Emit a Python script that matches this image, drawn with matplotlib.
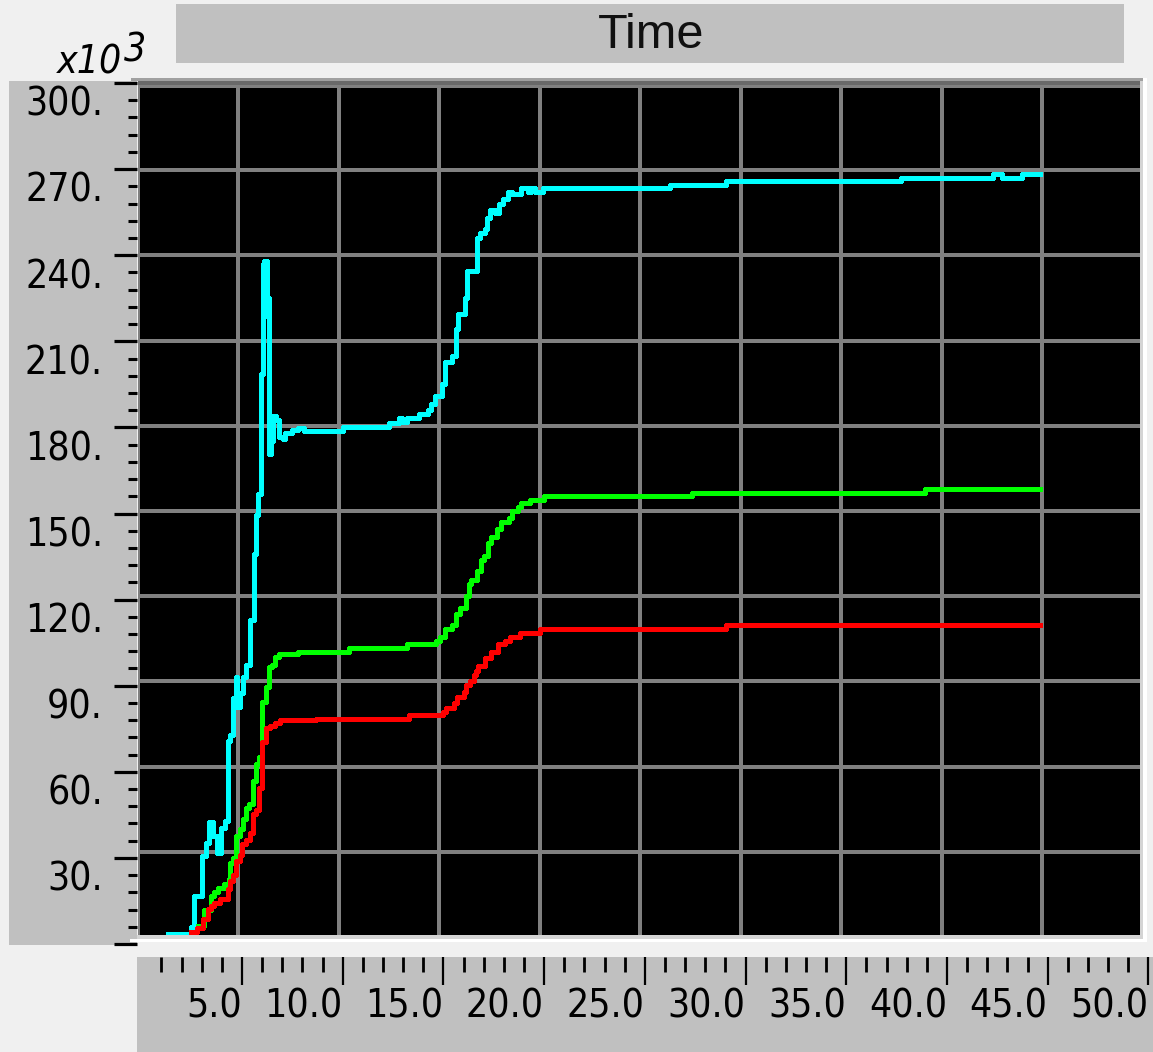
import numpy as np
import matplotlib
matplotlib.use("Agg")
import matplotlib.pyplot as plt
from matplotlib.patches import Rectangle
from matplotlib.transforms import blended_transform_factory

# step traces (x = time where each level starts, y = value in 1e3 units)
cyan_t = [1.5, 2.65, 2.8, 3.2, 3.4, 3.55, 3.75, 3.95, 4.15, 4.35, 4.5, 4.6, 4.75, 4.9,
          4.97, 5.1, 5.25, 5.4, 5.6, 5.8, 5.9, 6.0, 6.13, 6.25, 6.3, 6.42, 6.47, 6.55,
          6.65, 6.75, 6.9, 7.05, 7.25, 7.35, 7.7, 8.0, 8.3, 10.2, 12.5, 13.0, 13.15,
          13.4, 14.0, 14.45, 14.6, 14.8, 15.15, 15.3, 15.65, 15.85, 15.95, 16.3, 16.4,
          16.9, 17.05, 17.3, 17.4, 17.55, 17.8, 18.0, 18.2, 18.45, 18.65, 19.1, 19.45,
          19.6, 19.8, 20.15, 26.5, 29.3, 38.0, 42.55, 43.0, 44.0, 44.9]
cyan_v = [1, 3.5, 14.5, 28.5, 33, 40.5, 35.5, 29.5, 38.5, 41, 69, 71, 84, 91.5,
          81, 86, 91.5, 95.7, 111.5, 135, 148.5, 156, 198.4, 236.8, 238, 218.6, 225, 170,
          174.5, 183.4, 182.2, 176, 175.3, 177.3, 178.6, 179.4, 178.3, 179.5, 181, 182.8, 181.5,
          182.8, 184, 185.5, 187.8, 190.5, 194.8, 202.4, 204.5, 214, 219.4, 225, 234.6,
          246, 247.8, 249.2, 253.3, 255.9, 255, 258, 259.7, 262.3, 261.5, 263.6, 262.3,
          263.6, 262.4, 263.6, 264.9, 266.1, 267.4, 268.8, 267.4, 268.7, 268.7]

green_t = [3.0, 3.3, 3.65, 3.8, 4.0, 4.3, 4.55, 4.6, 4.75, 4.9, 5.1, 5.25, 5.4, 5.55,
           5.75, 5.9, 6.05, 6.2, 6.4, 6.55, 6.7, 6.85, 7.05, 8.0, 10.5, 13.4, 14.85,
           15.05, 15.3, 15.65, 15.85, 16.05, 16.35, 16.5, 16.6, 16.9, 17.1, 17.25, 17.45,
           17.6, 17.9, 18.1, 18.5, 18.65, 18.95, 19.1, 19.55, 20.2, 27.6, 39.2, 44.9]
green_v = [3.9, 9.4, 14.5, 16, 17.4, 18.6, 20.3, 26.1, 27.7, 35.5, 38, 41.7, 45.4, 46.8,
           54.8, 61, 63.5, 82.8, 88, 95, 95.7, 98.6, 99.5, 100.4, 101.8, 103.0, 104.4,
           105.7, 108.5, 109.8, 113.7, 116, 120.2, 124.4, 125.8, 129, 132.7, 134.2, 138.7,
           140.8, 143.8, 146.1, 147.6, 150, 151.5, 152.7, 153.9, 155.3, 156.5, 157.8, 157.8]

red_t = [2.65, 2.95, 3.25, 3.5, 3.65, 3.82, 4.12, 4.5, 4.62, 4.75, 4.9, 5.08, 5.22, 5.4,
         5.58, 5.75, 5.9, 6.05, 6.2, 6.4, 6.6, 6.85, 7.1, 8.9, 13.5, 15.2, 15.35, 15.75,
         15.9, 16.25, 16.35, 16.55, 16.75, 16.85, 16.95, 17.3, 17.6, 17.95, 18.3, 18.55,
         19.05, 20.0, 29.3, 44.9]
red_v = [1.8, 3.3, 6.3, 9.8, 11, 12.1, 13.3, 16.8, 19.7, 22, 26.7, 29, 32.9, 34.3,
         36.7, 43.4, 44.8, 52.4, 68.8, 73.5, 74.4, 75.5, 76.4, 76.8, 78.2, 79.4, 80.7, 82.4,
         84.6, 86.3, 88.9, 90.1, 92.3, 93.5, 95.5, 98.2, 100.4, 103.0, 104.4, 105.8,
         107.0, 108.4, 109.7, 109.7]

x_labels = ["5.0", "10.0", "15.0", "20.0", "25.0", "30.0", "35.0", "40.0", "45.0", "50.0"]
y_labels = ["30.", "60.", "90.", "120.", "150.", "180.", "210.", "240.", "270.", "300."]

W, H = 1153, 1052
LBL = dict(family=["DejaVu Sans"], fontstretch="condensed", fontsize=28)
PANEL = "#c0c0c0"


def rect(x0, y0, x1, y1):
    # pixel box (origin top-left) -> figure fraction rect
    return [x0 / W, 1 - y1 / H, (x1 - x0) / W, (y1 - y0) / H]


def fbox(x0, y0, x1, y1, color, z=5):
    fig.patches.append(Rectangle((x0 / W, 1 - y1 / H), (x1 - x0) / W, (y1 - y0) / H,
                                 transform=fig.transFigure, color=color, zorder=z, lw=0))


fig = plt.figure(figsize=(W / 100, H / 100), dpi=100, facecolor="#f0f0f0")

# title bar
fbox(176, 4, 1124, 63, PANEL, z=1)
fig.text(651 / W, 1 - 35 / H, "Time", ha="center", va="center", fontsize=35,
         family=["Liberation Sans", "DejaVu Sans"], color="#101010")

# scale multiplier
fig.text(57 / W, 1 - 73 / H, "x10", ha="left", va="baseline", style="italic", **LBL)
fig.text(124 / W, 1 - 61 / H, "3", ha="left", va="baseline", style="italic", **LBL)

# left scale panel
lp = fig.add_axes(rect(9, 81, 137, 945))
lp.set_facecolor(PANEL)
lp.set_ylim(-0.35, 300.7)
lp.set_xlim(0, 1)
for s in lp.spines.values():
    s.set_visible(False)
lp.set_xticks([])
lp.set_yticks(np.arange(0, 301, 30))
lp.set_yticks(np.arange(0, 301, 6), minor=True)
lp.yaxis.tick_right()
lp.tick_params(axis="y", which="major", direction="in", length=16.5, width=2.3,
               color="black", labelright=False)
lp.tick_params(axis="y", which="minor", direction="in", length=6.8, width=2.2,
               color="black")
# labels sit just under their tick
ytr = blended_transform_factory(lp.transAxes, lp.transData)
for i, lab in enumerate(y_labels):
    lp.text((103 - 9) / 128, 30 * (i + 1) - 1.0, lab, transform=ytr,
            ha="right", va="top", **LBL)

# bottom scale panel
bp = fig.add_axes(rect(137, 957, 1153, 1052))
bp.set_facecolor(PANEL)
bp.set_xlim(-0.21, 50.23)
bp.set_ylim(0, 1)
for s in bp.spines.values():
    s.set_visible(False)
bp.set_yticks([])
bp.set_xticks(np.arange(5, 51, 5))
bp.set_xticks(np.arange(1, 51, 1), minor=True)
bp.xaxis.tick_top()
bp.tick_params(axis="x", which="major", direction="in", length=20.5, width=1.6,
               color="black", labeltop=False)
bp.tick_params(axis="x", which="minor", direction="in", length=10.5, width=2.0,
               color="black")
xtr = blended_transform_factory(bp.transData, bp.transAxes)
for i, lab in enumerate(x_labels):
    bp.text(5 * (i + 1), (1052 - 988) / 95, lab, transform=xtr, ha="right", va="top", **LBL)

# plot area
ax = fig.add_axes(rect(137.5, 85, 1142.5, 937))
ax.set_facecolor("black")
ax.set_xlim(0, 50)
ax.set_ylim(0, 300)
for s in ax.spines.values():
    s.set_visible(False)
ax.set_xticks(np.arange(0, 51, 5))
ax.set_yticks(np.arange(0, 301, 30))
ax.tick_params(length=0, labelleft=False, labelbottom=False)
ax.set_axisbelow(True)
ax.grid(True, color="#808080", lw=2.6, antialiased=False)

ax.step(cyan_t, cyan_v, where="post", color="#00ffff", lw=2.4, antialiased=False)
ax.step(green_t, green_v, where="post", color="#00ff00", lw=2.4, antialiased=False)
ax.step(red_t, red_v, where="post", color="#ff0000", lw=2.4, antialiased=False)

# frame edges around the plot area
fbox(131, 78, 1143, 81, "#a0a0a0")
fbox(138, 81, 1140, 85, "#696969")
fbox(138, 85, 1140, 88, "#808080")
fbox(1140, 81, 1143, 939, "#d4d4d4")
fbox(1143, 78, 1147, 942, "white")
fbox(137, 935, 1143, 939, "#d4d4d4")
fbox(130, 939, 1147, 942, "white")

fig.savefig("out.png", dpi=100, facecolor=fig.get_facecolor())
